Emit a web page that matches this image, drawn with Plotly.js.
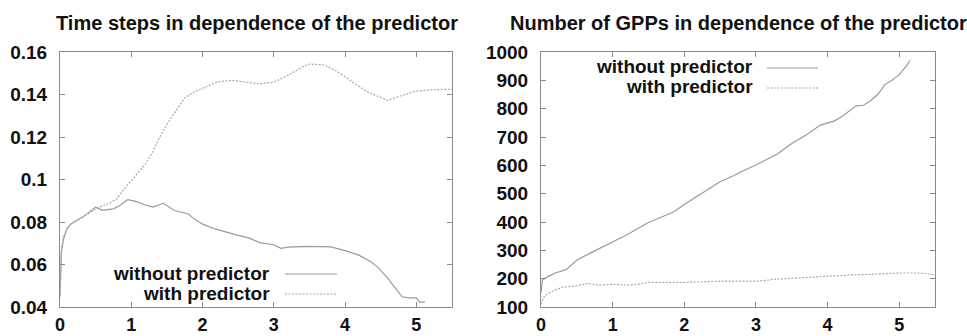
<!DOCTYPE html>
<html>
<head>
<meta charset="utf-8">
<script src="https://cdn.plot.ly/plotly-3.0.1.min.js"></script>
<style>html,body{margin:0;padding:0;background:#fff;}#chart{width:967px;height:336px;}</style>
</head>
<body>
<div id="chart"></div>
<script>
// Left panel: time steps
var tsWithoutX = [0, 0.02, 0.05, 0.1, 0.15, 0.25, 0.35, 0.5, 0.6, 0.75, 0.85, 0.95, 1.05, 1.2, 1.3, 1.45, 1.6, 1.8, 1.9, 2.0, 2.2, 2.5, 2.65, 2.8, 3.0, 3.1, 3.2, 3.5, 3.8, 4.0, 4.2, 4.35, 4.45, 4.6, 4.7, 4.8, 4.9, 5.0, 5.05, 5.12];
var tsWithoutY = [0.045, 0.066, 0.072, 0.077, 0.079, 0.081, 0.083, 0.087, 0.0855, 0.0862, 0.088, 0.0905, 0.0898, 0.088, 0.087, 0.0888, 0.0855, 0.0838, 0.081, 0.079, 0.0765, 0.0737, 0.0725, 0.0703, 0.0693, 0.0676, 0.0682, 0.0685, 0.0683, 0.0665, 0.0643, 0.0615, 0.059, 0.0535, 0.049, 0.0448, 0.0443, 0.0443, 0.0422, 0.0425];
var tsWithX = [0, 0.02, 0.05, 0.1, 0.15, 0.3, 0.45, 0.55, 0.7, 0.8, 0.9, 1.0, 1.1, 1.2, 1.3, 1.4, 1.5, 1.6, 1.75, 1.9, 2.0, 2.2, 2.4, 2.6, 2.8, 3.0, 3.2, 3.4, 3.5, 3.7, 3.9, 4.1, 4.3, 4.45, 4.6, 4.8, 5.0, 5.2, 5.5];
var tsWithY = [0.045, 0.068, 0.073, 0.077, 0.079, 0.082, 0.085, 0.087, 0.089, 0.091, 0.0955, 0.0995, 0.103, 0.1074, 0.113, 0.12, 0.126, 0.131, 0.1385, 0.1415, 0.143, 0.1458, 0.1467, 0.1458, 0.145, 0.1458, 0.149, 0.153, 0.1543, 0.154, 0.1506, 0.146, 0.1415, 0.1393, 0.1373, 0.1396, 0.1416, 0.1422, 0.1425];

// Right panel: number of GPPs
var gppWithoutX = [0, 0.02, 0.1, 0.2, 0.35, 0.5, 0.7, 1.0, 1.2, 1.5, 1.7, 1.85, 2.0, 2.2, 2.4, 2.5, 2.7, 2.8, 3.0, 3.3, 3.5, 3.7, 3.9, 4.0, 4.1, 4.2, 4.4, 4.5, 4.6, 4.7, 4.8, 4.9, 5.0, 5.1, 5.15];
var gppWithoutY = [150, 195, 208, 220, 232, 265, 292, 331, 355, 398, 418, 435, 462, 495, 527, 542, 565, 578, 601, 640, 677, 707, 742, 750, 757, 772, 810, 812, 828, 850, 885, 900, 920, 950, 970];
var gppWithX = [0, 0.05, 0.15, 0.3, 0.5, 0.65, 0.8, 1.0, 1.2, 1.35, 1.5, 2.0, 2.5, 3.0, 3.15, 3.25, 3.5, 4.0, 4.3, 4.7, 5.0, 5.3, 5.45, 5.5];
var gppWithY = [110, 140, 155, 170, 175, 183, 177, 180, 177, 180, 187, 187, 191, 191, 194, 198, 201, 210, 213, 216, 220, 220, 216, 213];

var xTicks = [0, 1, 2, 3, 4, 5];
var tsTicks = [0.04, 0.06, 0.08, 0.1, 0.12, 0.14, 0.16];
var tsTickText = ['0.04', '0.06', '0.08', '0.1', '0.12', '0.14', '0.16'];
var gppTicks = [100, 200, 300, 400, 500, 600, 700, 800, 900, 1000];

var titles = ['Time steps in dependence of the predictor', 'Number of GPPs in dependence of the predictor'];
var seriesNames = ['without predictor', 'with predictor'];

var lineCol = '#9a9a9a';
var font = 'Liberation Sans, Arial, Helvetica, sans-serif';

var traces = [
  {x: tsWithoutX, y: tsWithoutY, xaxis: 'x', yaxis: 'y', mode: 'lines', name: seriesNames[0], line: {color: lineCol, width: 1.2}},
  {x: tsWithX, y: tsWithY, xaxis: 'x', yaxis: 'y', mode: 'lines', name: seriesNames[1], line: {color: '#a8a8a8', width: 1.2, dash: '2px,1.5px'}},
  {x: gppWithoutX, y: gppWithoutY, xaxis: 'x2', yaxis: 'y2', mode: 'lines', name: seriesNames[0], line: {color: lineCol, width: 1.2}},
  {x: gppWithX, y: gppWithY, xaxis: 'x2', yaxis: 'y2', mode: 'lines', name: seriesNames[1], line: {color: '#a8a8a8', width: 1.2, dash: '2px,1.5px'}}
];

var W = 967, H = 336;
var L1 = 60, R1 = 452, L2 = 541, R2 = 935, T = 52, B = 307;

function axX(l, r) {
  return {domain: [l / W, r / W], range: [0, 5.5], tickvals: xTicks, ticks: 'inside', ticklen: 5, tickcolor: '#888',
    showline: true, linecolor: '#8a8a8a', linewidth: 1, mirror: 'ticks', showgrid: false, zeroline: false,
    tickfont: {family: font, size: 18, color: '#111', weight: 'bold'}, ticklabelstandoff: 1};
}
function axY(ticks, text, range) {
  var a = {domain: [1 - B / H, 1 - T / H], range: range, tickvals: ticks, ticks: 'inside', ticklen: 5, tickcolor: '#888',
    showline: true, linecolor: '#8a8a8a', linewidth: 1, mirror: 'ticks', showgrid: false, zeroline: false,
    tickfont: {family: font, size: 19, color: '#111', weight: 'bold'}, ticklabelstandoff: 8};
  if (text) a.ticktext = text;
  return a;
}

var x1 = axX(L1, R1), x2 = axX(L2, R2);
x1.anchor = 'y'; x2.anchor = 'y2';
var y1 = axY(tsTicks, tsTickText, [0.04, 0.16]), y2 = axY(gppTicks, null, [100, 1000]);
y1.anchor = 'x'; y2.anchor = 'x2';

function ann(text, xpx, ypx, anchor, size) {
  return {text: text, xref: 'paper', yref: 'paper', x: xpx / W, y: 1 - ypx / H, xanchor: anchor, yanchor: 'middle',
    showarrow: false, font: {family: font, size: size, color: '#111', weight: 'bold'}};
}

var annotations = [
  ann(titles[0], (L1 + R1) / 2 + 1, 23, 'center', 20),
  ann(titles[1], (L2 + R2) / 2, 23, 'center', 20),
  ann(seriesNames[0], 272, 273, 'right', 19),
  ann(seriesNames[1], 272, 293, 'right', 19),
  ann(seriesNames[0], 755, 67, 'right', 19),
  ann(seriesNames[1], 755, 87, 'right', 19)
];

function sample(x0, x1p, ypx, dashed) {
  return {type: 'line', xref: 'paper', yref: 'paper', x0: x0 / W, x1: x1p / W, y0: 1 - ypx / H, y1: 1 - ypx / H,
    line: {color: dashed ? '#a8a8a8' : lineCol, width: 1.2, dash: dashed ? '2px,1.5px' : 'solid'}};
}
var shapes = [
  sample(285, 337, 274, false), sample(285, 337, 294, true),
  sample(767, 818, 68, false), sample(767, 818, 88, true)
];

var layout = {
  width: W, height: H, margin: {l: 0, r: 0, t: 0, b: 0},
  paper_bgcolor: '#fff', plot_bgcolor: '#fff', showlegend: false,
  xaxis: x1, yaxis: y1, xaxis2: x2, yaxis2: y2,
  annotations: annotations, shapes: shapes
};

Plotly.newPlot('chart', traces, layout, {staticPlot: true, displayModeBar: false});
</script>
</body>
</html>
